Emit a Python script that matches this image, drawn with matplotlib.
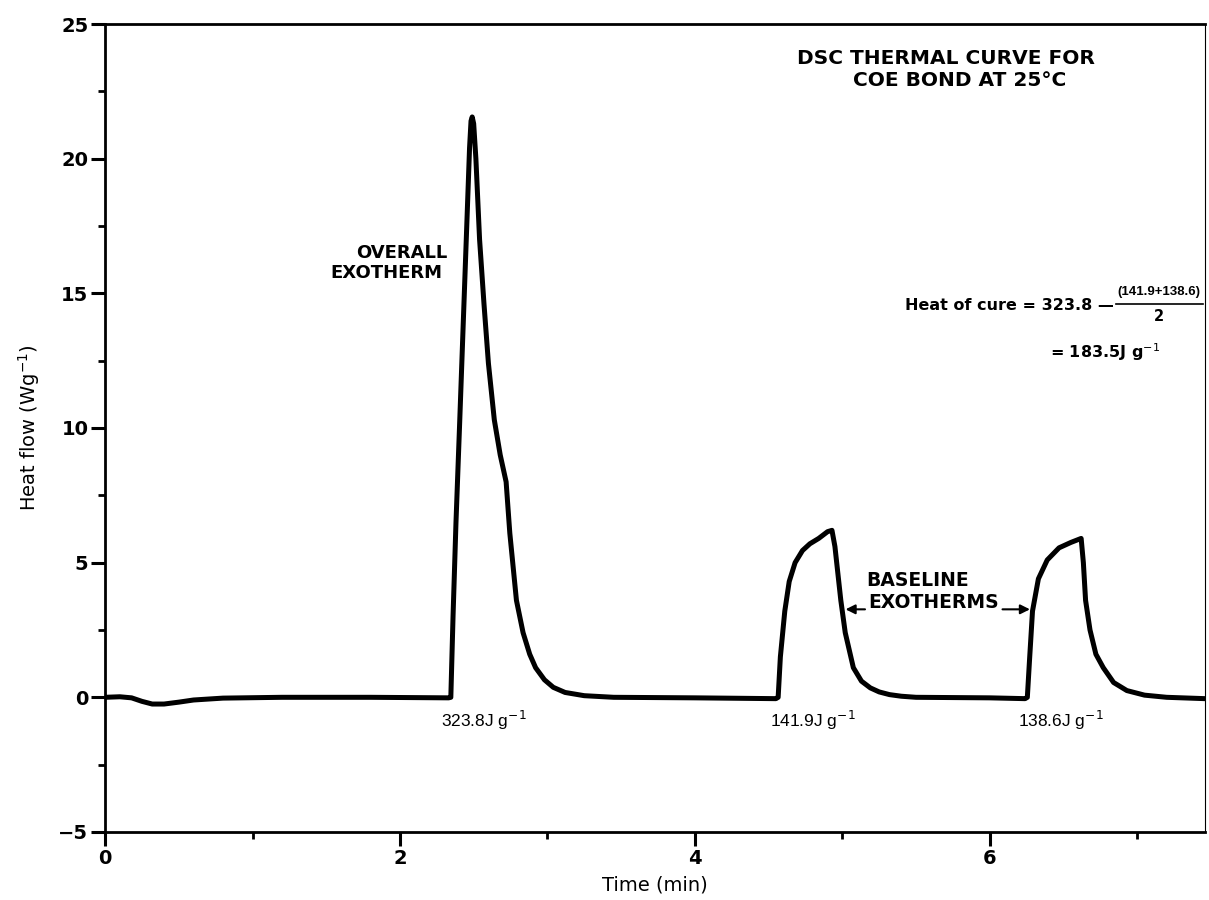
import matplotlib
matplotlib.use('Agg')
import matplotlib.pyplot as plt
from matplotlib import font_manager

# DSC trace (time in min, heat flow in W/g)
time_min = [0.0, 0.1, 0.18, 0.25, 0.32, 0.40, 0.50, 0.60, 0.80, 1.20, 1.80, 2.33,
            2.345, 2.36, 2.38, 2.405, 2.43, 2.455, 2.472, 2.482, 2.49, 2.50, 2.515,
            2.54, 2.57, 2.60, 2.64, 2.68, 2.72, 2.745, 2.79, 2.835, 2.88, 2.92,
            2.98, 3.04, 3.12, 3.25, 3.45, 4.0, 4.55,
            4.565, 4.58, 4.61, 4.64, 4.68, 4.73, 4.78, 4.84, 4.90, 4.93, 4.95,
            4.97, 4.99, 5.02, 5.075, 5.13, 5.19, 5.25, 5.32, 5.40, 5.50, 6.0, 6.24,
            6.255, 6.27, 6.29, 6.33, 6.39, 6.47, 6.55, 6.62, 6.635, 6.65, 6.68,
            6.72, 6.77, 6.84, 6.93, 7.05, 7.2, 7.46]
heat_flow = [0.0, 0.02, -0.02, -0.15, -0.25, -0.25, -0.18, -0.1, -0.03, 0.0, 0.0, -0.02,
             0.0, 3.0, 6.5, 10.2, 14.0, 17.8, 20.4, 21.4, 21.55, 21.3, 20.0,
             17.0, 14.6, 12.4, 10.3, 9.0, 8.0, 6.1, 3.6, 2.4, 1.6, 1.1,
             0.65, 0.37, 0.18, 0.06, 0.0, -0.02, -0.05,
             0.0, 1.5, 3.2, 4.3, 5.0, 5.45, 5.7, 5.9, 6.15, 6.2, 5.6,
             4.6, 3.6, 2.4, 1.1, 0.6, 0.35, 0.2, 0.1, 0.04, 0.0, -0.02, -0.05,
             0.0, 1.4, 3.2, 4.4, 5.1, 5.55, 5.75, 5.9, 5.0, 3.6, 2.5,
             1.6, 1.1, 0.55, 0.25, 0.08, 0.0, -0.05]

x_ticks = [0, 2, 4, 6]
y_ticks = [-5, 0, 5, 10, 15, 20, 25]
enthalpies = ['323.8', '141.9', '138.6']
enthalpy_x = [2.28, 4.51, 6.19]


def px(x, y):
    # convert picture pixels to data coordinates
    return (x - 105) / 147.5, (697 - y) / 26.94


# narrow face for the fraction if it is there
names = {f.name for f in font_manager.fontManager.ttflist}
if 'Liberation Sans Narrow' in names:
    frac_font, frac_size = 'Liberation Sans Narrow', 11
else:
    frac_font, frac_size = 'Liberation Sans', 9.5

fig = plt.figure(figsize=(12.09, 9), dpi=100)
ax = fig.add_axes([0.0869, 0.0756, 0.9098, 0.8977])
ax.plot(time_min, heat_flow, color='black', lw=3.6, solid_capstyle='round',
        solid_joinstyle='round')

ax.set_xlim(0, 7.46)
ax.set_ylim(-5, 25)
ax.set_xticks(x_ticks)
ax.set_xticks([1, 3, 5, 7], minor=True)
ax.set_yticks(y_ticks)
ax.set_yticks([-2.5, 2.5, 7.5, 12.5, 17.5, 22.5], minor=True)
ax.tick_params(which='major', direction='out', length=10, width=2.2, pad=2,
               labelsize=14)
ax.tick_params(which='minor', direction='out', length=5, width=2)
for lab in ax.get_xticklabels() + ax.get_yticklabels():
    lab.set_fontweight('heavy')
for side in ['left', 'bottom', 'top']:
    ax.spines[side].set_linewidth(2.0)
ax.spines['right'].set_linewidth(0.8)

ax.set_xlabel('Time (min)', fontsize=14, labelpad=6)
ax.set_ylabel(r'Heat flow (Wg$^{-1}$)', fontsize=14, labelpad=12)

# headline
ax.text(*px(797, 58), 'DSC THERMAL CURVE FOR', fontsize=14.5, fontweight='bold',
        va='center', ha='left')
ax.text(*px(853, 80), 'COE BOND AT 25°C', fontsize=14.5, fontweight='bold',
        va='center', ha='left')

ax.text(*px(447, 253), 'OVERALL', fontsize=13, fontweight='bold', va='center', ha='right')
ax.text(*px(442, 273), 'EXOTHERM', fontsize=13, fontweight='bold', va='center', ha='right')

# heat of cure formula
ax.text(*px(905, 305), 'Heat of cure = 323.8 \u2014', fontsize=11.5, fontweight='bold',
        va='center', ha='left')
ax.text(*px(1159, 292), '(141.9+138.6)', fontsize=frac_size, family=frac_font,
        fontweight='bold', va='center', ha='center')
x0, y0 = px(1116, 304)
x1, _ = px(1203, 304)
ax.plot([x0, x1], [y0, y0], color='black', lw=1.2)
ax.text(*px(1159, 316), '2', fontsize=10.5, fontweight='bold', va='center', ha='center')
ax.text(*px(1050, 352), r'= 183.5J g$^{-1}$', fontsize=11.5, fontweight='bold',
        va='center', ha='left')

# baseline exotherms with arrows
ax.text(*px(866, 580), 'BASELINE', fontsize=13.5, fontweight='bold', va='center', ha='left')
ax.text(*px(868, 602), 'EXOTHERMS', fontsize=13.5, fontweight='bold', va='center', ha='left')
ax.annotate('', xy=px(843, 609), xytext=px(868, 609),
            arrowprops=dict(arrowstyle='-|>', color='black', lw=1.5, mutation_scale=14))
ax.annotate('', xy=px(1033, 609), xytext=px(1000, 609),
            arrowprops=dict(arrowstyle='-|>', color='black', lw=1.5, mutation_scale=14))

# peak enthalpies
for xv, val in zip(enthalpy_x, enthalpies):
    ax.text(xv, -0.85, val + r'J g$^{-1}$', fontsize=12.5, family='Liberation Sans',
            va='center', ha='left')

fig.savefig('out.png', dpi=100)
